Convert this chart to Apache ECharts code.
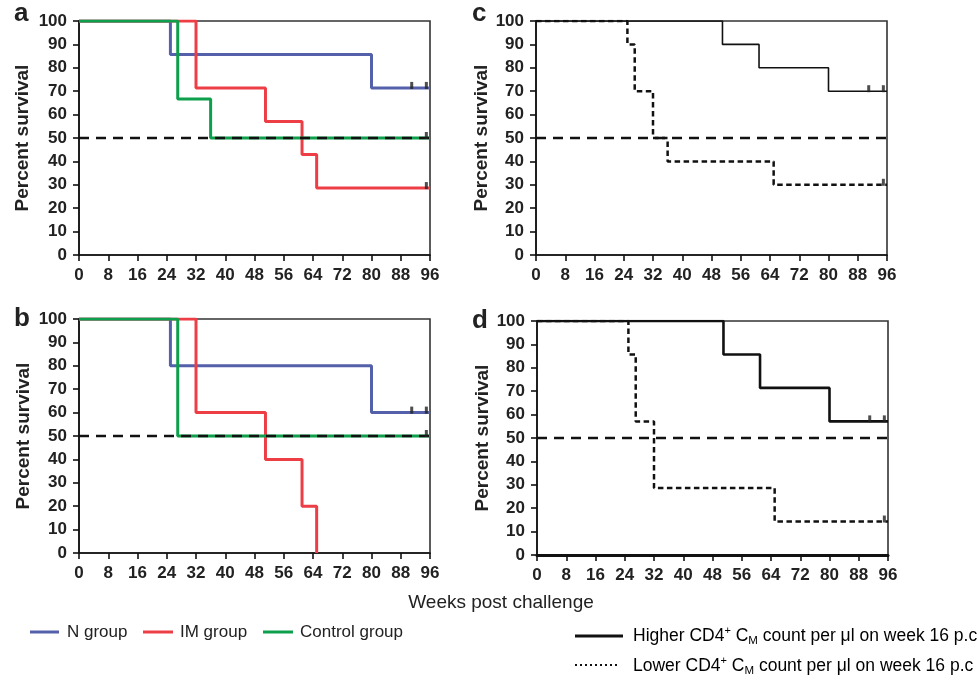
<!DOCTYPE html>
<html>
<head>
<meta charset="utf-8">
<script src="https://cdn.jsdelivr.net/npm/echarts@6.0.0/dist/echarts.min.js"></script>
<style>
html, body { margin: 0; padding: 0; background: #fff; }
#chart { width: 980px; height: 677px; }
</style>
</head>
<body>
<div id="chart"></div>
<script>
// axes
const weekMin = 0, weekMax = 96, weekStep = 8;
const pctMin = 0, pctMax = 100, pctStep = 10;

// panel a
const aN_weeks = [0, 25, 80, 96];
const aN_pct = [100, 85.7, 71.4, 71.4];
const aN_cens = [91, 95];
const aIM_weeks = [0, 32, 51, 61, 65, 96];
const aIM_pct = [100, 71.4, 57.1, 42.9, 28.6, 28.6];
const aIM_cens = [95];
const aCtl_weeks = [0, 27, 36, 96];
const aCtl_pct = [100, 66.7, 50, 50];
const aCtl_cens = [95];

// panel b
const bN_weeks = [0, 25, 80, 96];
const bN_pct = [100, 80, 60, 60];
const bN_cens = [91, 95];
const bIM_weeks = [0, 32, 51, 61, 65];
const bIM_pct = [100, 60, 40, 20, 0];
const bCtl_weeks = [0, 27, 96];
const bCtl_pct = [100, 50, 50];
const bCtl_cens = [95];

// panel c
const cHi_weeks = [0, 51, 61, 80, 96];
const cHi_pct = [100, 90, 80, 70, 70];
const cHi_cens = [91, 95];
const cLo_weeks = [0, 25, 27, 32, 36, 65, 96];
const cLo_pct = [100, 90, 70, 50, 40, 30, 30];
const cLo_cens = [95];

// panel d
const dHi_weeks = [0, 51, 61, 80, 96];
const dHi_pct = [100, 85.7, 71.4, 57.1, 57.1];
const dHi_cens = [91, 95];
const dLo_weeks = [0, 25, 27, 32, 65, 96];
const dLo_pct = [100, 85.7, 57.1, 28.6, 14.3, 14.3];
const dLo_cens = [95];

// 50% reference line
const median_weeks = [0, 96];
const median_pct = [50, 50];

const BLUE = '#5560ab', RED = '#ee3e45', GREEN = '#0d9f4c', INK = '#222';
const FONT = '"Liberation Sans", Arial, sans-serif';

const chart = echarts.init(document.getElementById('chart'));

const grids = [
  {left: 79, top: 21, width: 351, height: 234},   // a
  {left: 79, top: 319, width: 351, height: 234},  // b
  {left: 536, top: 21, width: 351, height: 234},  // c
  {left: 537, top: 321, width: 351, height: 234}  // d
];
const nameGaps = [47, 46, 44, 44];

function km (name, idx, weeks, pct, color, width, dash) {
  return {
    name: name, type: 'line', step: 'end', xAxisIndex: idx, yAxisIndex: idx,
    data: weeks.map((w, k) => [w, pct[k]]),
    symbol: 'none', silent: true, z: 3,
    lineStyle: {color: color, width: width, type: dash || 'solid'}
  };
}
function cens (idx, weeks, pct, marks) {
  const y = pct[pct.length - 1];
  return {
    type: 'scatter', xAxisIndex: idx, yAxisIndex: idx, z: 6, silent: true,
    symbol: 'rect', symbolSize: [3, 7], symbolOffset: [0, -2.5],
    itemStyle: {color: INK},
    data: marks.map(w => [w, y])
  };
}
function median (idx) {
  return km('median', idx, median_weeks, median_pct, '#111', 2.5, [10, 7]);
}

const series = [
  // a
  km('N group', 0, aN_weeks, aN_pct, BLUE, 3),
  km('IM group', 0, aIM_weeks, aIM_pct, RED, 3),
  km('Control group', 0, aCtl_weeks, aCtl_pct, GREEN, 3),
  Object.assign(median(0), {z: 4}),
  cens(0, aN_weeks, aN_pct, aN_cens),
  cens(0, aIM_weeks, aIM_pct, aIM_cens),
  cens(0, aCtl_weeks, aCtl_pct, aCtl_cens),
  // b
  km('N group', 1, bN_weeks, bN_pct, BLUE, 3),
  km('IM group', 1, bIM_weeks, bIM_pct, RED, 3),
  km('Control group', 1, bCtl_weeks, bCtl_pct, GREEN, 3),
  Object.assign(median(1), {z: 4}),
  cens(1, bN_weeks, bN_pct, bN_cens),
  cens(1, bCtl_weeks, bCtl_pct, bCtl_cens),
  // c
  km('Higher', 2, cHi_weeks, cHi_pct, '#111', 1.6),
  km('Lower', 2, cLo_weeks, cLo_pct, '#111', 2.5, [5.5, 3.5]),
  median(2),
  cens(2, cHi_weeks, cHi_pct, cHi_cens),
  cens(2, cLo_weeks, cLo_pct, cLo_cens),
  // d
  km('Higher', 3, dHi_weeks, dHi_pct, '#111', 2.6),
  km('Lower', 3, dLo_weeks, dLo_pct, '#111', 2.5, [5.5, 3.5]),
  median(3),
  cens(3, dHi_weeks, dHi_pct, dHi_cens),
  cens(3, dLo_weeks, dLo_pct, dLo_cens)
];

const legendLine = {fontSize: 17, fontFamily: FONT, fill: INK, lineHeight: 22};
const richLegend = {
  t: {fontSize: 17.5, fontFamily: FONT, color: INK, lineHeight: 22},
  sup: {fontSize: 11, fontFamily: FONT, color: INK, lineHeight: 12, verticalAlign: 'top'},
  sub: {fontSize: 11.5, fontFamily: FONT, color: INK, lineHeight: 12, verticalAlign: 'bottom'}
};

function letter (ch, x, y) {
  return {type: 'text', left: x, top: y, style: {text: ch, font: 'bold 26px ' + FONT, fill: INK}};
}
function sample (x1, x2, y, color, width, dash) {
  return {type: 'line', shape: {x1: x1, y1: y, x2: x2, y2: y},
    style: {stroke: color, lineWidth: width, lineDash: dash || null}};
}
function label (txt, x, y) {
  return {type: 'text', x: x, y: y, style: Object.assign({text: txt, verticalAlign: 'middle'}, legendLine)};
}

const option = {
  animation: false,
  backgroundColor: '#fff',
  grid: grids.map(g => Object.assign({show: true, borderColor: '#333', borderWidth: 1.6, containLabel: false}, g)),
  xAxis: grids.map((g, i) => ({
    type: 'value', gridIndex: i, min: weekMin, max: weekMax, interval: weekStep,
    axisLine: {show: true, lineStyle: {color: '#111', width: i === 3 ? 3 : 1.6}},
    axisTick: {show: true, length: 6, lineStyle: {color: '#111', width: 1.6}},
    axisLabel: {margin: 12, color: INK, fontFamily: FONT, fontWeight: 'bold', fontSize: 17},
    splitLine: {show: false}
  })),
  yAxis: grids.map((g, i) => ({
    type: 'value', gridIndex: i, min: pctMin, max: pctMax, interval: pctStep,
    name: 'Percent survival', nameLocation: 'middle', nameGap: nameGaps[i],
    nameTextStyle: {color: INK, fontFamily: FONT, fontWeight: 'bold', fontSize: 19},
    axisLine: {show: true, lineStyle: {color: '#111', width: 1.6}},
    axisTick: {show: true, length: 6, lineStyle: {color: '#111', width: 1.6}},
    axisLabel: {margin: 12, color: INK, fontFamily: FONT, fontWeight: 'bold', fontSize: 17},
    splitLine: {show: false}
  })),
  series: series,
  graphic: [
    letter('a', 14, 1),
    letter('b', 14, 306),
    letter('c', 472, 1),
    letter('d', 472, 308),
    {type: 'text', x: 501, y: 603,
      style: {text: 'Weeks post challenge', font: '19px ' + FONT, fill: INK, align: 'center', verticalAlign: 'middle'}},
    // legend, panels a and b
    sample(30, 59, 632, BLUE, 3),
    label('N group', 67, 632),
    sample(143, 173, 632, RED, 3),
    label('IM group', 180, 632),
    sample(263, 293, 632, GREEN, 3),
    label('Control group', 300, 632),
    // legend, panels c and d
    sample(575, 623, 636, '#111', 3),
    {type: 'text', x: 633, y: 636, style: {
      text: '{t|Higher CD4}{sup|+}{t| C}{sub|M}{t| count per μl on week 16 p.c}',
      rich: richLegend, verticalAlign: 'middle'}},
    sample(575, 620, 665, '#111', 2, [2, 3]),
    {type: 'text', x: 633, y: 666, style: {
      text: '{t|Lower CD4}{sup|+}{t| C}{sub|M}{t| count per μl on week 16 p.c}',
      rich: richLegend, verticalAlign: 'middle'}}
  ]
};

chart.setOption(option);
</script>
</body>
</html>
